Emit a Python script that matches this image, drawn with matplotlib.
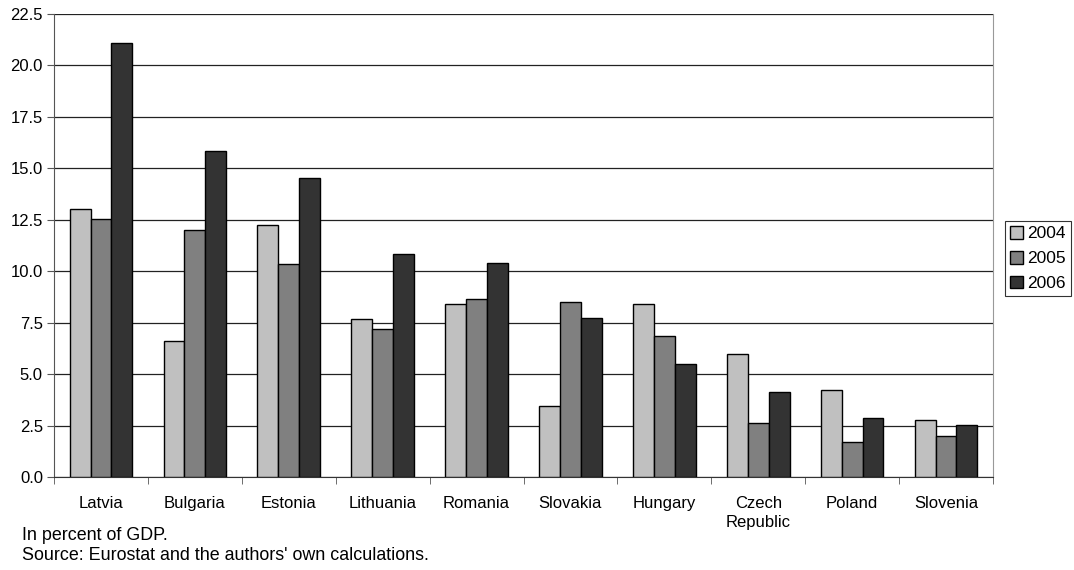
import matplotlib
matplotlib.use("Agg")
import matplotlib.pyplot as plt
import numpy as np

plt.rcParams['font.family'] = ['Liberation Sans', 'DejaVu Sans']

countries = ["Latvia", "Bulgaria", "Estonia", "Lithuania", "Romania",
             "Slovakia", "Hungary", "Czech\nRepublic", "Poland", "Slovenia"]
years = ["2004", "2005", "2006"]
v2004 = [13.0, 6.6, 12.25, 7.7, 8.4, 3.45, 8.4, 6.0, 4.25, 2.75]
v2005 = [12.55, 12.0, 10.35, 7.2, 8.65, 8.5, 6.85, 2.6, 1.7, 2.0]
v2006 = [21.1, 15.85, 14.55, 10.85, 10.4, 7.75, 5.5, 4.15, 2.85, 2.55]
series = [v2004, v2005, v2006]
colors = ["#c0c0c0", "#808080", "#333333"]
yticks = [0.0, 2.5, 5.0, 7.5, 10.0, 12.5, 15.0, 17.5, 20.0, 22.5]

FS = 12

fig = plt.figure(figsize=(10.74, 5.70), dpi=100)
ax = fig.add_axes([54/1074, 1-477/570, (993-54)/1074, (477-14)/570])

x = np.arange(len(countries))
w = 1/4.5
for i, (vals, c, lab) in enumerate(zip(series, colors, years)):
    ax.bar(x + (i-1)*w, vals, width=w, color=c, edgecolor="black",
           linewidth=1.0, label=lab, zorder=3)

ax.set_xlim(-0.5, len(countries)-0.5)
ax.set_ylim(0, 22.5)
ax.set_yticks(yticks)
ax.set_yticklabels([f"{t:.1f}" for t in yticks], fontsize=FS)
ax.yaxis.grid(True, color="#222222", linewidth=0.9, zorder=0)
ax.set_axisbelow(True)

ax.set_xticks(x)
ax.set_xticklabels(countries, fontsize=FS, linespacing=1.3)
ax.tick_params(axis="x", length=0, pad=14)
ax.set_xticks(np.arange(-0.5, len(countries)), minor=True)
ax.tick_params(axis="x", which="minor", length=5, direction="out", color="#555555")
ax.tick_params(axis="y", length=5, direction="out", color="#555555", pad=3)

ax.spines["top"].set_visible(False)
ax.spines["right"].set_color("#999999")
ax.spines["left"].set_color("#555555")
ax.spines["bottom"].set_color("#333333")

leg = ax.legend(loc="center left", bbox_to_anchor=(1005/1074, 1-258.5/570),
                bbox_transform=fig.transFigure, frameon=True, fancybox=False,
                fontsize=12.5, handlelength=0.75, handleheight=0.75,
                handletextpad=0.25, borderpad=0.3, labelspacing=0.55,
                borderaxespad=0)
leg.get_frame().set_edgecolor("black")
leg.get_frame().set_linewidth(0.8)

fig.text(22/1074, 1-535/570, "In percent of GDP.", fontsize=12.9, va="center")
fig.text(22/1074, 1-556/570, "Source: Eurostat and the authors' own calculations.",
         fontsize=12.9, va="center")

fig.savefig("out.png", dpi=100)
